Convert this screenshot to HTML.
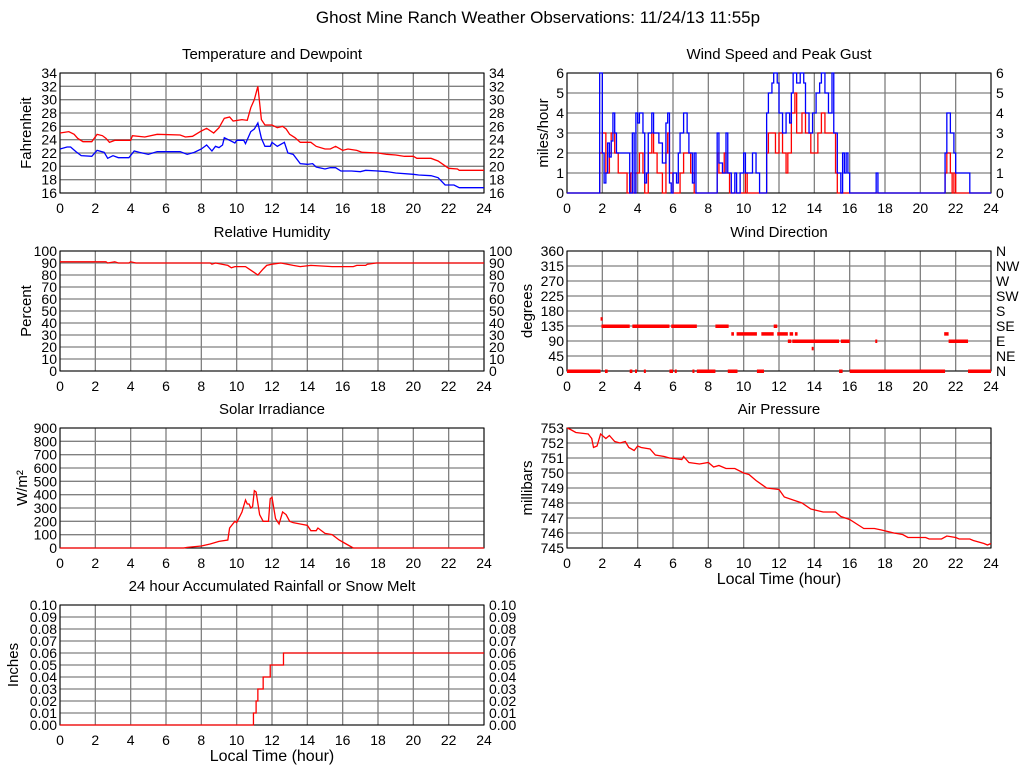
<!DOCTYPE html>
<html><head><meta charset="utf-8"><style>
body{margin:0;background:#fff;}
svg{display:block;font-family:"Liberation Sans",sans-serif;}
</style></head><body>
<svg id="c" width="1024" height="768" viewBox="0 0 1024 768">
<text x="538" y="23" text-anchor="middle" font-size="17">Ghost Mine Ranch Weather Observations: 11/24/13 11:55p</text>
</svg>
<script>
// ---- data ----
const tempHours=[0,0.5,0.8,1,1.3,1.8,2.1,2.4,2.6,2.8,3.1,4,4.1,4.8,5.5,6.8,7.1,7.5,8,8.3,8.7,9,9.3,9.6,9.8,10.3,10.6,10.8,11,11.2,11.4,11.6,12,12.3,12.6,12.8,13,13.3,13.6,14.2,14.5,15,15.3,15.6,16,16.3,16.8,17.1,18,18.5,19,19.5,20,20.2,21,21.4,22,22.5,22.6,24];
const tempValues=[25,25.2,24.8,24.2,23.7,23.7,24.8,24.6,24.2,23.6,23.9,23.9,24.6,24.4,24.8,24.7,24.4,24.5,25.3,25.7,25.0,25.8,27.2,27.4,26.8,27.0,26.9,28.8,30,32,27,26.2,26.2,25.8,26.0,25.6,24.8,24.3,23.6,23.6,23.0,22.6,22.6,23.0,22.4,22.6,22.4,22.1,22.0,21.8,21.7,21.5,21.5,21.2,21.2,20.8,19.7,19.6,19.4,19.4];
const dewHours=[0,0.4,0.6,0.9,1.2,1.8,2.1,2.5,2.7,3,3.3,3.9,4.2,4.5,5,5.5,6.8,7.2,7.6,8,8.3,8.6,8.8,9,9.2,9.3,9.6,9.9,10,10.4,10.5,10.8,11,11.2,11.4,11.6,11.9,12,12.3,12.7,12.9,13.2,13.6,14,14.3,14.5,15,15.3,15.6,15.9,16.5,17,17.3,18,18.5,19,20,20.3,21,21.4,21.8,22.3,22.6,24];
const dewValues=[22.6,22.9,22.9,22.2,21.6,21.5,22.4,22.1,21.2,21.6,21.3,21.3,22.3,22.1,21.8,22.2,22.2,21.8,22.1,22.6,23.2,22.3,23.0,22.8,23.2,24.3,23.9,23.5,23.9,23.9,23.4,25.2,25.6,26.5,24.2,23.0,23.0,23.6,23.0,23.6,22.0,21.8,20.4,20.3,20.4,19.9,19.6,19.8,19.8,19.3,19.3,19.2,19.4,19.3,19.2,19.0,18.8,18.7,18.6,18.3,17.2,17.2,16.8,16.8];
const gustHours=[0,1.8,1.85,1.95,2.0,2.1,2.2,2.3,2.4,2.5,2.6,2.7,2.8,3.5,3.55,3.7,3.8,3.9,4.0,4.1,4.3,4.4,4.5,4.6,4.8,4.9,5.2,5.4,5.6,5.7,5.8,5.9,6.0,6.2,6.3,6.4,6.6,6.8,6.9,7.1,7.2,7.3,8.4,8.5,8.6,8.8,9,9.1,9.3,9.5,9.6,9.8,10.0,10.1,10.5,10.7,10.9,11.2,11.3,11.4,11.6,11.7,11.9,12.0,12.2,12.4,12.6,12.7,12.8,13.0,13.2,13.4,13.5,13.7,13.9,14.1,14.3,14.4,14.6,14.8,15.0,15.1,15.3,15.5,15.6,15.7,15.8,15.9,16.0,17.4,17.5,17.6,21.3,21.4,21.5,21.7,21.9,22.0,22.7,22.8,24];
const gustValues=[0,0,6,6,2,0.5,1,2.5,1.8,2.6,4,3,2,2,0,3,0,4,3.5,4,3,0.5,1,3,4,3,2.5,1.5,3.5,4,0.5,0,1,0.5,2,3,4,3,2,0.5,2,0,0,3,1.5,1,3,1,0,1,0,1,2,1,2,1,0,0,4,5,5.5,6,5.5,4,3,4,3.5,5,6,5.5,6,5.5,4,3,4,5,5.5,6,5,4,6,3,1,0,2,1,2,1,0,0,1,0,0,2,4,3,2,1,1,0,0];
const speedHours=[0,1.8,1.85,2.0,2.2,2.4,2.5,2.7,2.9,3.2,3.4,3.6,3.7,3.9,4.1,4.3,4.4,4.6,4.8,4.9,5.1,5.4,5.6,5.7,5.8,6.0,6.4,6.6,6.9,7.0,7.2,8.4,8.5,8.6,8.9,9.0,9.2,10.0,10.1,10.2,11.2,11.3,11.4,11.6,11.8,12,12.2,12.4,12.5,12.7,12.9,13.0,13.3,13.5,13.8,14.2,14.4,14.6,15.0,15.2,15.3,21.4,21.5,21.7,21.8,21.9,22.0,24];
const speedValues=[0,0,2,3,1,2,3,2,1,1,0,1,0,1,2,1,0,2,3,2,1,0,2,3,1,0,1,2,2,1,0,0,2,1,2,1,0,0,1,0,0,2,3,3,2,3,2,1,2,4,5,3,4,3,2,3,4,3,3,1,0,1,2,1,0,1,0,0];
const rhHours=[0,2.6,2.7,3.1,3.3,3.9,4.0,4.3,8.5,8.6,8.8,9.5,9.7,9.9,10.5,10.8,11.0,11.2,11.5,11.7,12,12.5,13.2,13.6,14.2,15.4,16.6,16.8,17.3,17.4,17.9,24];
const rhValues=[91,91,90,91,90,90,91,90,90,89,90,88,86,87,87,84,82,80,85,88,89,90,88,87,88,87,87,88,88,89,90,90];
const dirStart=[0,2.15,3.55,3.85,4.35,5.8,6.1,7.1,7.35,9.1,10.75,15.4,16.0,22.7,1.9,1.95,3.7,5.9,8.4,11.7,9.3,9.6,11.0,11.9,12.6,12.9,21.35,12.5,12.75,15.5,17.45,21.6,13.85];
const dirEnd=[1.9,2.3,3.7,3.95,4.45,6.0,6.2,7.15,8.4,9.65,11.15,15.6,21.4,24,1.95,3.55,5.8,7.35,9.15,11.9,9.45,10.75,11.7,12.5,12.8,13.05,21.6,12.7,15.4,16.0,17.5,22.7,13.9];
const dirDegrees=[0,0,0,0,0,0,0,0,0,0,0,0,0,0,157,135,135,135,135,135,112,112,112,112,112,112,112,90,90,90,90,90,68];
const solarHours=[0,7,7.2,8,8.5,9,9.5,9.6,9.9,10,10.3,10.5,10.6,10.7,10.8,10.9,11.0,11.1,11.3,11.5,11.8,11.9,12.0,12.1,12.2,12.4,12.6,12.8,13,13.2,13.6,14.0,14.2,14.5,14.6,15,15.4,15.8,16.2,16.6,24];
const solarValues=[0,0,5,15,30,50,60,150,200,190,270,360,330,330,300,310,430,420,250,200,200,370,380,300,220,180,270,250,200,190,180,170,130,130,150,110,100,60,30,0,0];
const presHours=[0,0.2,0.5,1.2,1.4,1.5,1.7,1.9,2.2,2.4,2.7,3,3.3,3.5,3.8,4,4.2,4.7,5,5.5,5.8,6.5,6.6,6.9,7.5,8,8.3,8.6,9,9.5,10,10.3,10.7,11.3,12,12.3,12.8,13.3,13.8,14.5,15.2,15.5,16,16.4,16.8,17.4,17.8,18.5,19,19.3,20.3,20.5,21.2,21.5,22.0,22.2,22.8,23.0,23.6,23.8,24];
const presValues=[753,752.9,752.7,752.6,752.3,751.7,751.8,752.6,752.3,752.5,752.1,752.0,752.1,751.7,751.5,751.8,751.7,751.6,751.2,751.1,751.0,750.9,751.1,750.7,750.6,750.7,750.4,750.5,750.3,750.3,750.0,749.9,749.5,749.0,748.9,748.4,748.2,748.0,747.6,747.4,747.4,747.1,746.9,746.6,746.3,746.3,746.2,746.0,745.9,745.7,745.7,745.6,745.6,745.8,745.7,745.6,745.6,745.5,745.3,745.2,745.3];
const rainHours=[0,10.95,11.1,11.2,11.5,11.9,12.65,24];
const rainValues=[0,0.01,0.02,0.03,0.04,0.05,0.06,0.06];
const hourTicks=[0,2,4,6,8,10,12,14,16,18,20,22,24];
const tempTicks=[16,18,20,22,24,26,28,30,32,34];
const windTicks=[0,1,2,3,4,5,6];
const rhTicks=[0,10,20,30,40,50,60,70,80,90,100];
const dirTicks=[0,45,90,135,180,225,270,315,360];
const dirLabels=["N","NE","E","SE","S","SW","W","NW","N"];
const solarTicks=[0,100,200,300,400,500,600,700,800,900];
const presTicks=[745,746,747,748,749,750,751,752,753];
const rainTicks=[0,0.01,0.02,0.03,0.04,0.05,0.06,0.07,0.08,0.09,0.10];

const svg=document.getElementById('c');
const NS='http://www.w3.org/2000/svg';
function mk(tag,attrs,parent){const e=document.createElementNS(NS,tag);for(const k in attrs)e.setAttribute(k,attrs[k]);(parent||svg).appendChild(e);return e;}
function txt(x,y,s,anchor,size,parent){const t=mk('text',{x:x,y:y,'text-anchor':anchor,'font-size':size},parent);t.textContent=s;return t;}

function panel(name,title,x0,x1,y0,y1,ymin,ymax,ticks,fmt,rightLabels,ytitle,ytx,showX){
  const g=mk('g',{});
  
  
  const sx=h=>x0+(h/24)*(x1-x0);
  const sy=v=>y1-(v-ymin)/(ymax-ymin)*(y1-y0);
  const tt=txt((x0+x1)/2,y0-14,title,'middle',15,g);
  
  
  hourTicks.forEach(h=>{
    const l=mk('line',{x1:sx(h),x2:sx(h),y1:y0,y2:y1,stroke:'#808080','stroke-width':1.3},g);
    
    
    const t=txt(sx(h),y1+20,String(h),'middle',14,g);
    
    
  });
  ticks.forEach((v,i)=>{
    const l=mk('line',{x1:x0,x2:x1,y1:sy(v),y2:sy(v),stroke:'#808080','stroke-width':1.3},g);
    
    
    const t=txt(x0-3,sy(v)+5,fmt(v),'end',14,g);
    
    
    if(rightLabels){
      const r=txt(x1+5,sy(v)+5,rightLabels===true?fmt(v):rightLabels[i],'start',14,g);
      
      
    }
  });
  const f=mk('rect',{x:x0,y:y0,width:x1-x0,height:y1-y0,fill:'none',stroke:'#000','stroke-width':1},g);
  
  
  const yt=mk('text',{x:0,y:0,'text-anchor':'middle','font-size':15,transform:`translate(${ytx},${(y0+y1)/2}) rotate(-90)`},g);
  yt.textContent=ytitle;
  
  
  if(showX){
    const xt=txt((x0+x1)/2,y1+36,'Local Time (hour)','middle',16,g);
    
    
  }
  return {g,sx,sy};
}
function line(p,hs,vs,color,name,step){
  let d='';
  hs.forEach((h,i)=>{
    const x=p.sx(h),y=p.sy(vs[i]);
    if(i===0)d+=`M${x},${y}`;
    else if(step)d+=`H${x}V${y}`;
    else d+=`L${x},${y}`;
  });
  const e=mk('path',{d:d,fill:'none',stroke:color,'stroke-width':1.3},p.g);
  
  
}

const pT=panel('temperature','Temperature and Dewpoint',60,484,73,193,16,34,tempTicks,v=>String(v),true,'Fahrenheit',31,false);
line(pT,tempHours,tempValues,'#ff0000','temperature-line');
line(pT,dewHours,dewValues,'#0000ff','dewpoint-line');

const pW=panel('wind-speed','Wind Speed and Peak Gust',567,991,73,193,0,6,windTicks,v=>String(v),true,'miles/hour',548,false);
line(pW,speedHours,speedValues,'#ff0000','wind-speed-line',true);
line(pW,gustHours,gustValues,'#0000ff','peak-gust-line',true);

const pR=panel('humidity','Relative Humidity',60,484,251,371,0,100,rhTicks,v=>String(v),true,'Percent',31,false);
line(pR,rhHours,rhValues,'#ff0000','humidity-line');

const pD=panel('wind-direction','Wind Direction',567,991,251,371,0,360,dirTicks,v=>String(v),dirLabels,'degrees',532,false);
dirStart.forEach((s,i)=>{
  const r=mk('rect',{x:pD.sx(s),y:pD.sy(dirDegrees[i])-1.5,width:Math.max(2,pD.sx(dirEnd[i])-pD.sx(s)),height:3.5,fill:'#ff0000'},pD.g);
  
  
});

const pS=panel('solar','Solar Irradiance',60,484,428,548,0,900,solarTicks,v=>String(v),false,'W/m²',27,false);
line(pS,solarHours,solarValues,'#ff0000','solar-line');

const pP=panel('pressure','Air Pressure',567,991,428,548,745,753,presTicks,v=>String(v),false,'millibars',532,true);
line(pP,presHours,presValues,'#ff0000','pressure-line');

const pN=panel('rainfall','24 hour Accumulated Rainfall or Snow Melt',60,484,605,725,0,0.1,rainTicks,v=>v.toFixed(2),true,'Inches',18,true);
line(pN,rainHours,rainValues,'#ff0000','rainfall-line',true);
</script>
</body></html>
